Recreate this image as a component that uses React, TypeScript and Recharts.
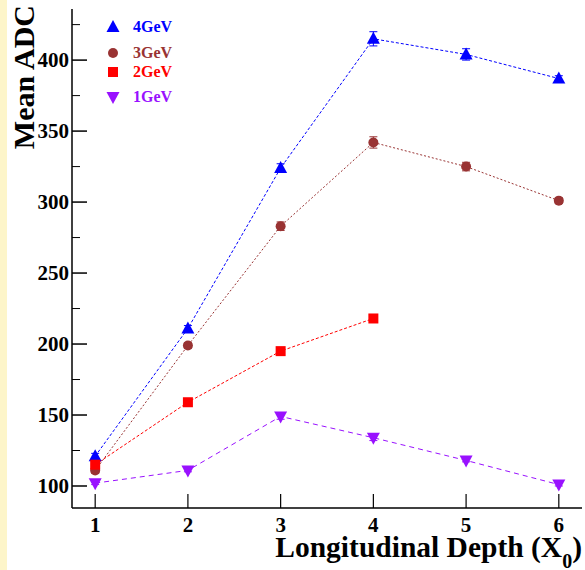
import { LineChart, Line, XAxis, YAxis, ErrorBar, Legend, Label } from 'recharts';

const depth = [1, 2, 3, 4, 5, 6];
const adc4GeV = [121, 211, 324, 415, 404, 387];
const err4GeV = [2, 2, 3, 5, 4, 2];
const adc3GeV = [111, 199, 283, 342, 325, 301];
const err3GeV = [2, 2, 3, 4, 3, 2];
const adc2GeV = [115, 159, 195, 218, null, null];
const err2GeV = [1, 1, 1, 2, null, null];
const adc1GeV = [102, 111, 149, 134, 118, 101];
const err1GeV = [1, 1, 2, 2, 1, 1];

const xTicks = [1, 2, 3, 4, 5, 6];
const yTicks = [100, 125, 150, 175, 200, 225, 250, 275, 300, 325, 350, 375, 400, 425];

const SERIF = '"Liberation Serif", "Times New Roman", Times, serif';

const data = depth.map((d, i) => ({
  x: d,
  a4: adc4GeV[i], e4: err4GeV[i],
  a3: adc3GeV[i], e3: err3GeV[i],
  a2: adc2GeV[i], e2: err2GeV[i],
  a1: adc1GeV[i], e1: err1GeV[i],
}));

const series = [
  { key: 'a4', err: 'e4', name: '4GeV', color: '#0000ff', shape: 'up', dash: '3 2' },
  { key: 'a3', err: 'e3', name: '3GeV', color: '#993333', shape: 'circle', dash: '2 2' },
  { key: 'a2', err: 'e2', name: '2GeV', color: '#ff0000', shape: 'square', dash: '3 2' },
  { key: 'a1', err: 'e1', name: '1GeV', color: '#9911ff', shape: 'down', dash: '5 4' },
];

function marker(shape: string, cx: number, cy: number, color: string, key?: string) {
  if (shape === 'up')
    return <polygon key={key} points={`${cx},${cy - 7} ${cx - 6.5},${cy + 5} ${cx + 6.5},${cy + 5}`} fill={color} />;
  if (shape === 'down')
    return <polygon key={key} points={`${cx},${cy + 7} ${cx - 6.5},${cy - 5} ${cx + 6.5},${cy - 5}`} fill={color} />;
  if (shape === 'square')
    return <rect key={key} x={cx - 5} y={cy - 5} width={10} height={10} fill={color} />;
  return <circle key={key} cx={cx} cy={cy} r={5} fill={color} />;
}

const dotFor = (shape: string, color: string) => (props: any) => {
  const { cx, cy, index } = props;
  if (cx == null || cy == null || Number.isNaN(cy)) return <g key={`d-${index}`} />;
  return marker(shape, cx, cy, color, `d-${index}`);
};

function YTick(props: any) {
  const { x, y, payload } = props;
  const major = payload.value % 50 === 0;
  return (
    <g>
      <line x1={x} x2={x + (major ? 15 : 8)} y1={y} y2={y} stroke="#000" strokeWidth={major ? 1.5 : 1} />
      {major && (
        <text x={x - 3} y={y + 7} textAnchor="end" fontFamily={SERIF} fontWeight="bold" fontSize={21} fill="#000">
          {payload.value}
        </text>
      )}
    </g>
  );
}

function XTick(props: any) {
  const { x, y, payload } = props;
  return (
    <g>
      <line x1={x} x2={x} y1={y} y2={y - 14} stroke="#000" strokeWidth={1.2} />
      <text x={x} y={y + 24} textAnchor="middle" fontFamily={SERIF} fontWeight="bold" fontSize={21} fill="#000">
        {payload.value}
      </text>
    </g>
  );
}

const legendRows = [27, 53, 72, 97];

function renderLegend() {
  return (
    <svg width={200} height={110} style={{ display: 'block' }}>
      {series.map((s, i) => (
        <g key={s.key}>
          {marker(s.shape, 113, legendRows[i], s.color)}
          <text x={133} y={legendRows[i] + 5} fontFamily={SERIF} fontWeight="bold" fontSize={16} fill={s.color}>
            {s.name}
          </text>
        </g>
      ))}
    </svg>
  );
}

export default function App() {
  return (
    <div style={{ position: 'absolute', left: 0, top: 0, width: 585, height: 570, background: '#fff' }}>
      <div style={{ position: 'absolute', left: 0, top: 0, width: 7, height: 570, background: '#fdf5c9' }} />
      <LineChart width={585} height={570} data={data} margin={{ top: 9, right: 3, left: 0, bottom: 0 }}>
        <XAxis
          dataKey="x"
          type="number"
          domain={[0.75, 6.25]}
          ticks={xTicks}
          interval={0}
          allowDataOverflow
          height={62}
          tickSize={0}
          tickMargin={0}
          tickLine={false}
          tick={<XTick />}
          axisLine={{ stroke: '#000', strokeWidth: 1.5 }}
        >
          <Label
            content={() => (
              <text x={582} y={557} textAnchor="end" fontFamily={SERIF} fontWeight="bold" fontSize={29.5} fill="#000">
                Longitudinal Depth (X<tspan dy={11} fontSize={20}>0</tspan><tspan dy={-11}>)</tspan>
              </text>
            )}
          />
        </XAxis>
        <XAxis
          xAxisId="top"
          orientation="top"
          type="number"
          domain={[0.75, 6.25]}
          height={0}
          tick={false}
          tickLine={false}
          axisLine={{ stroke: '#000', strokeWidth: 1 }}
        />
        <YAxis
          type="number"
          domain={[84.5, 436]}
          ticks={yTicks}
          interval={0}
          allowDataOverflow
          width={72}
          tickSize={0}
          tickMargin={0}
          tickLine={false}
          tick={<YTick />}
          axisLine={{ stroke: '#000', strokeWidth: 1.5 }}
        >
          <Label
            content={() => (
              <text
                transform="rotate(-90)"
                x={-5}
                y={34}
                textAnchor="end"
                fontFamily={SERIF}
                fontWeight="bold"
                fontSize={30}
                fill="#000"
              >
                Mean ADC
              </text>
            )}
          />
        </YAxis>
        <YAxis
          yAxisId="right"
          orientation="right"
          type="number"
          domain={[84.5, 436]}
          width={0}
          tick={false}
          tickLine={false}
          axisLine={{ stroke: '#888', strokeWidth: 2 }}
        />
        <Legend
          layout="vertical"
          align="center"
          verticalAlign="middle"
          content={renderLegend}
          wrapperStyle={{ position: 'absolute', left: 0, top: 0, width: 200, height: 110 }}
        />
        {series.map((s) => (
          <Line
            key={s.key}
            type="linear"
            dataKey={s.key}
            name={s.name}
            stroke={s.color}
            strokeWidth={1}
            strokeDasharray={s.dash}
            dot={dotFor(s.shape, s.color)}
            activeDot={false}
            isAnimationActive={false}
          >
            <ErrorBar dataKey={s.err} width={4} stroke={s.color} strokeWidth={1} direction="y" />
          </Line>
        ))}
      </LineChart>
    </div>
  );
}
